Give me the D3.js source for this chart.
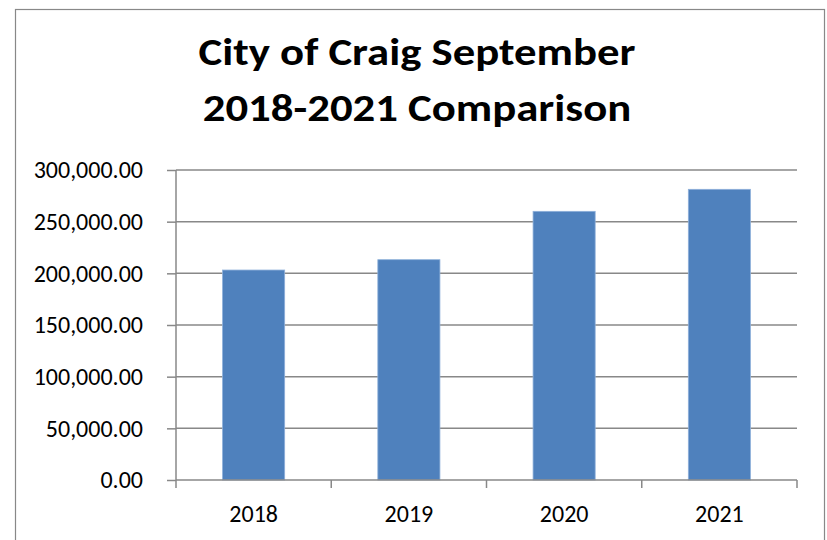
<!DOCTYPE html>
<html>
<head>
<meta charset="utf-8">
<script src="https://d3js.org/d3.v7.min.js"></script>
<style>
  body { margin: 0; background: #fff; }
  svg { display: block; font-family: Carlito, "Liberation Sans Narrow", sans-serif; }
</style>
</head>
<body>
<svg id="viz" width="827" height="540"></svg>
<script>
const svg = d3.select("#viz");

// データ
const years = ["2018", "2019", "2020", "2021"];
const revenue = [203200, 213200, 260000, 281300];
const yTicks = [0, 50000, 100000, 150000, 200000, 250000, 300000];
const titleLines = ["City of Craig September", "2018-2021 Comparison"];

const plot = { left: 176, right: 797, top: 170, bottom: 480 };

// 外枠
svg.append("rect")
  .attr("x", 15.5).attr("y", 9.5)
  .attr("width", 809).attr("height", 540)
  .attr("fill", "#fff")
  .attr("stroke", "#888")
  .attr("stroke-width", 1.2);

// タイトル（幅を元画像に合わせる）
const titleY = i => 65 + i * 56;
const title = svg.append("g")
  .selectAll("text")
  .data(titleLines)
  .enter().append("text")
  .attr("x", 417)
  .attr("y", (d, i) => titleY(i))
  .attr("text-anchor", "middle")
  .style("font-weight", "bold")
  .style("font-size", "38px")
  .attr("fill", "#000")
  .text(d => d);
const w0 = title.nodes()[0].getComputedTextLength();
const sx = 437 / w0;
title.attr("transform", (d, i) => `translate(417,${titleY(i)}) scale(${sx},1) translate(-417,${-titleY(i)})`);

const x = d3.scaleBand()
  .domain(years)
  .range([plot.left, plot.right])
  .paddingInner(0.6)
  .paddingOuter(0.3);

const y = d3.scaleLinear()
  .domain([0, 300000])
  .range([plot.bottom, plot.top]);

// グリッド線
svg.append("g")
  .selectAll("line")
  .data(yTicks.slice(1))
  .enter().append("line")
  .attr("x1", plot.left).attr("x2", plot.right)
  .attr("y1", d => y(d)).attr("y2", d => y(d))
  .attr("stroke", "#888")
  .attr("stroke-width", 1.5);

// 棒
svg.append("g")
  .selectAll("rect")
  .data(years.map((yr, i) => ({ yr, v: revenue[i] })))
  .enter().append("rect")
  .attr("x", d => x(d.yr))
  .attr("y", d => y(d.v))
  .attr("width", x.bandwidth())
  .attr("height", d => plot.bottom - y(d.v))
  .attr("fill", "#4F81BD")
  .attr("stroke", "#8EB0DA")
  .attr("stroke-width", 0.8);

// Y軸
const yAxis = d3.axisLeft(y)
  .tickValues(yTicks)
  .tickSize(9)
  .tickPadding(24)
  .tickFormat(d3.format(",.2f"));

const yg = svg.append("g")
  .attr("transform", `translate(${plot.left},0)`)
  .call(yAxis);
yg.attr("font-family", null).attr("font-size", null);
yg.select(".domain").attr("stroke", "#888").attr("stroke-width", 1.5)
  .attr("d", `M0,${plot.top}V${plot.bottom}`);
yg.selectAll(".tick line").attr("stroke", "#888").attr("stroke-width", 1.5);
yg.selectAll(".tick text")
  .style("font-size", "24px")
  .attr("fill", "#000");

// X軸（目盛は区切り位置）
const xg = svg.append("g")
  .attr("transform", `translate(0,${plot.bottom})`);
xg.append("line")
  .attr("x1", plot.left).attr("x2", plot.right)
  .attr("stroke", "#888").attr("stroke-width", 1.5);
xg.selectAll(".sep")
  .data(d3.range(years.length + 1))
  .enter().append("line")
  .attr("x1", i => plot.left + i * (plot.right - plot.left) / years.length)
  .attr("x2", i => plot.left + i * (plot.right - plot.left) / years.length)
  .attr("y1", 0).attr("y2", 8)
  .attr("stroke", "#888").attr("stroke-width", 1.5);
xg.selectAll(".lbl")
  .data(years)
  .enter().append("text")
  .attr("x", d => x(d) + x.bandwidth() / 2)
  .attr("y", 42)
  .attr("text-anchor", "middle")
  .style("font-size", "24px")
  .attr("fill", "#000")
  .text(d => d);
</script>
</body>
</html>
